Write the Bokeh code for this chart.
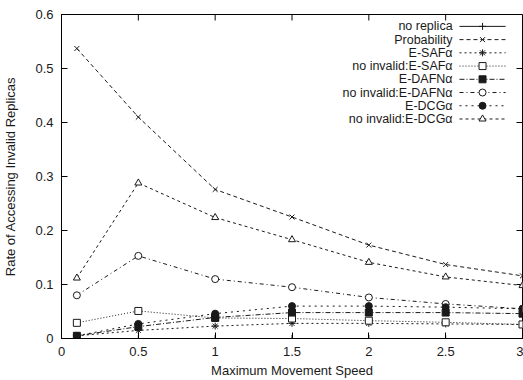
from bokeh.plotting import figure
from bokeh.models import Range1d, FixedTicker
from bokeh.core.properties import value
from bokeh.embed import file_html
from bokeh.resources import INLINE

# ---- data ----
speed = [0.1, 0.5, 1, 1.5, 2, 2.5, 3]
no_replica = [0.0, 0.0, 0.0, 0.0, 0.0, 0.0, 0.0]
probability = [0.537, 0.410, 0.276, 0.225, 0.173, 0.137, 0.116]
e_saf = [0.005, 0.015, 0.023, 0.028, 0.028, 0.027, 0.026]
ni_e_saf = [0.029, 0.051, 0.038, 0.037, 0.033, 0.030, 0.026]
e_dafn = [0.005, 0.022, 0.039, 0.048, 0.048, 0.048, 0.046]
ni_e_dafn = [0.080, 0.153, 0.110, 0.095, 0.076, 0.064, 0.055]
e_dcg = [0.005, 0.027, 0.046, 0.060, 0.060, 0.058, 0.055]
ni_e_dcg = [0.112, 0.288, 0.224, 0.183, 0.141, 0.114, 0.098]

series_names = ["no replica", "Probability", "E-SAF\u03b1", "no invalid:E-SAF\u03b1",
                "E-DAFN\u03b1", "no invalid:E-DAFN\u03b1", "E-DCG\u03b1", "no invalid:E-DCG\u03b1"]
series_values = [no_replica, probability, e_saf, ni_e_saf, e_dafn, ni_e_dafn, e_dcg, ni_e_dcg]

x_ticks = [0, 0.5, 1, 1.5, 2, 2.5, 3]
x_tick_labels = ["0", "0.5", "1", "1.5", "2", "2.5", "3"]
y_ticks = [0, 0.1, 0.2, 0.3, 0.4, 0.5, 0.6]
y_tick_labels = ["0", "0.1", "0.2", "0.3", "0.4", "0.5", "0.6"]

x_title = "Maximum Movement Speed"
y_title = "Rate of Accessing Invalid Replicas"

# ---- styles ----
FONT = "Liberation Sans"
INK = "#1a1a1a"
styles = [
    dict(dash="solid", marker="cross", fill=None),
    dict(dash="4 3", marker="x", fill=None),
    dict(dash="2 3", marker="asterisk", fill=None),
    dict(dash="1 2", marker="square", fill="white"),
    dict(dash="5 2 1 2", marker="square", fill=INK),
    dict(dash="4 3 1 3", marker="circle", fill="white"),
    dict(dash="2 4", marker="circle", fill=INK),
    dict(dash="3 3", marker="triangle", fill="white"),
]

X0, X1, Y0, Y1 = 0, 3, 0, 0.6
W, H = 523, 380
BL, BR, BT, BB = 60, 1, 14, 42

p = figure(width=W, height=H, x_range=Range1d(X0, X1), y_range=Range1d(Y0, Y1),
           output_backend="svg", toolbar_location=None,
           min_border_left=BL, min_border_right=BR, min_border_top=BT, min_border_bottom=BB)
p.grid.visible = False
p.outline_line_color = "black"
p.outline_line_width = 1
p.background_fill_color = "white"
p.border_fill_color = "white"

for ax, ticks, labels in ((p.xaxis[0], x_ticks, x_tick_labels), (p.yaxis[0], y_ticks, y_tick_labels)):
    ax.ticker = FixedTicker(ticks=ticks)
    ax.major_label_overrides = {t: l for t, l in zip(ticks, labels)}
    ax.major_tick_in = 6
    ax.major_tick_out = 0
    ax.minor_tick_in = 0
    ax.minor_tick_out = 0
    ax.axis_line_color = "black"
    ax.major_tick_line_color = "black"
    ax.major_label_text_font = FONT
    ax.major_label_text_font_size = "13px"
    ax.major_label_text_color = INK
    ax.axis_label_text_font = FONT
    ax.axis_label_text_font_size = "13px"
    ax.axis_label_text_font_style = "normal"
    ax.axis_label_text_color = INK

p.xaxis[0].axis_label = x_title
p.yaxis[0].axis_label = y_title
p.xaxis[0].major_label_standoff = 8
p.xaxis[0].axis_label_standoff = 4
p.yaxis[0].major_label_standoff = 8
p.yaxis[0].axis_label_standoff = 14

# mirrored inward ticks on the top and right edges (gnuplot style)
fw = W - BL - BR
fh = H - BT - BB
tick_dx = 6 * (X1 - X0) / fw
tick_dy = 6 * (Y1 - Y0) / fh
p.segment(x0=x_ticks, y0=[Y1] * len(x_ticks), x1=x_ticks, y1=[Y1 - tick_dy] * len(x_ticks),
          line_color="black", line_width=1)
p.segment(x0=[X1] * len(y_ticks), y0=y_ticks, x1=[X1 - tick_dx] * len(y_ticks), y1=y_ticks,
          line_color="black", line_width=1)

# ---- series ----
for vals, st in zip(series_values, styles):
    p.line(speed, vals, line_color=INK, line_width=1, line_dash=st["dash"])
    p.scatter(speed, vals, marker=st["marker"], size=7, line_color=INK, line_width=1,
              fill_color=st["fill"] if st["fill"] else None)

# ---- gnuplot-style legend (text, then sample) ----
leg_text_x = 2.545
leg_line_x0, leg_line_x1 = 2.59, 2.89
leg_marker_x = 2.74
leg_top = 0.578
leg_step = 0.0245
for i, (name, st) in enumerate(zip(series_names, styles)):
    yy = leg_top - i * leg_step
    p.text([leg_text_x], [yy], text=[name], text_align="right", text_baseline="middle",
           text_font=value(FONT), text_font_size="12.5px", text_color=INK)
    p.line([leg_line_x0, leg_line_x1], [yy, yy], line_color=INK, line_width=1, line_dash=st["dash"])
    p.scatter([leg_marker_x], [yy], marker=st["marker"], size=7, line_color=INK, line_width=1,
              fill_color=st["fill"] if st["fill"] else None)

open("out.html", "w").write(file_html(p, INLINE))
